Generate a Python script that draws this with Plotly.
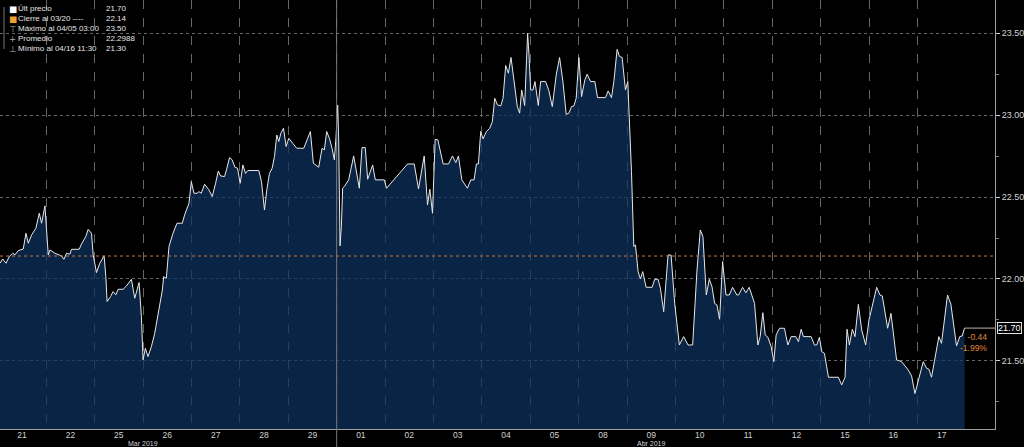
import plotly.graph_objects as go

# ---- data (x = position in trading days since start of 21 Mar; y = price) ----
day_labels = ["21", "22", "25", "26", "27", "28", "29", "01", "02", "03",
              "04", "05", "08", "09", "10", "11", "12", "15", "16", "17"]
month_labels = ["Mar 2019", "Abr 2019"]
month_label_pos = [3.0, 13.5]
month_boundary = 7  # index where "01" (April) starts

t = [0.045, 0.10, 0.169, 0.237, 0.306, 0.354, 0.423, 0.526, 0.581, 0.629,
     0.698, 0.787, 0.856, 0.904, 0.973, 1.007, 1.042, 1.076, 1.179, 1.316,
     1.365, 1.42, 1.488, 1.523, 1.681, 1.729, 1.818, 1.866, 1.935, 1.97,
     2.038, 2.107, 2.196, 2.231, 2.258, 2.327, 2.382, 2.437, 2.485, 2.588,
     2.657, 2.76, 2.828, 2.918, 2.966, 3.0, 3.048, 3.103, 3.172, 3.241,
     3.344, 3.399, 3.426, 3.481, 3.536, 3.619, 3.701, 3.811, 3.859, 3.949,
     3.997, 4.052, 4.114, 4.155, 4.203, 4.272, 4.361, 4.430, 4.499, 4.554,
     4.602, 4.684, 4.732, 4.787, 4.842, 4.897, 4.952, 5.007, 5.062, 5.117,
     5.165, 5.392, 5.447, 5.509, 5.557, 5.612, 5.667, 5.715, 5.763, 5.804,
     5.846, 5.901, 5.956, 6.011, 6.093, 6.176, 6.32, 6.389, 6.457, 6.519,
     6.629,
     6.698, 6.746, 6.794, 6.849, 6.904, 6.952, 6.987, 7.021, 7.042, 7.069,
     7.097, 7.124, 7.158, 7.248, 7.351, 7.413, 7.468, 7.523, 7.591, 7.64,
     7.743, 7.798, 7.983, 8.031, 8.464, 8.602, 8.691, 8.808, 8.877, 8.925,
     8.98, 9.035, 9.09, 9.2, 9.31, 9.392, 9.461, 9.516, 9.585, 9.701,
     9.77, 9.839, 9.887, 9.928,
     9.976, 10.024, 10.093, 10.162, 10.217, 10.265, 10.32, 10.389, 10.437, 10.492,
     10.547, 10.602, 10.664, 10.732, 10.78, 10.822, 10.884, 10.945, 10.973, 11.007,
     11.055, 11.097, 11.165, 11.213, 11.317, 11.385, 11.454, 11.536, 11.605, 11.674,
     11.742, 11.797, 11.852, 11.9, 11.948, 12.004, 12.059, 12.127, 12.175, 12.244,
     12.334, 12.389, 12.553, 12.609, 12.677, 12.726, 12.794, 12.842, 12.897, 12.966,
     13.014, 13.048, 13.09, 13.138, 13.172, 13.227, 13.275,
     13.323, 13.392, 13.516, 13.571, 13.64, 13.688, 13.756, 13.846, 13.908, 13.983,
     14.079, 14.169, 14.258, 14.354, 14.444, 14.512, 14.567, 14.636, 14.698, 14.753,
     14.808, 14.856, 14.911, 14.973, 15.042, 15.11, 15.179, 15.268, 15.303, 15.385,
     15.454, 15.522, 15.632, 15.701, 15.749, 15.804, 15.853, 15.908, 15.976, 16.031,
     16.079, 16.148, 16.251, 16.32, 16.389, 16.485,
     16.54, 16.595, 16.643, 16.801, 16.87, 16.918, 16.973, 17.021, 17.076, 17.159,
     17.365, 17.433, 17.502, 17.543, 17.592, 17.653, 17.708, 17.777, 17.846, 17.928,
     17.997, 18.086, 18.155, 18.224, 18.272, 18.382, 18.451, 18.567, 18.671, 18.808,
     18.877, 18.946, 19.028, 19.117, 19.186, 19.234, 19.289, 19.358, 19.44, 19.495,
     19.619, 19.688, 19.736, 19.805, 19.873, 19.921, 19.97]

price = [22.096, 22.122, 22.096, 22.137, 22.157, 22.147, 22.173, 22.183, 22.279, 22.218,
         22.269, 22.310, 22.401, 22.340, 22.446, 22.320, 22.147, 22.177, 22.157, 22.141,
         22.120, 22.157, 22.151, 22.181, 22.181, 22.214, 22.259, 22.303, 22.279, 22.147,
         22.039, 22.096, 22.141, 22.014, 21.862, 21.892, 21.923, 21.903, 21.937, 21.937,
         21.957, 21.998, 21.882, 21.978, 21.770, 21.506, 21.577, 21.526, 21.587, 21.668,
         21.831, 21.933, 22.014, 22.004, 22.198, 22.279, 22.340, 22.340, 22.391, 22.462,
         22.594, 22.523, 22.523, 22.533, 22.523, 22.578, 22.544, 22.503, 22.584, 22.659,
         22.629, 22.625, 22.676, 22.741, 22.727, 22.682, 22.676, 22.584, 22.696, 22.645,
         22.662, 22.662, 22.594, 22.421, 22.544, 22.645, 22.676, 22.747, 22.879, 22.839,
         22.889, 22.920, 22.808, 22.859, 22.828, 22.798, 22.798, 22.849, 22.900, 22.706,
         22.682,
         22.798, 22.788, 22.900, 22.859, 22.798, 22.727, 22.869, 23.062, 22.849, 22.202,
         22.320, 22.554, 22.564, 22.605, 22.751, 22.655, 22.554, 22.802, 22.802, 22.609,
         22.696, 22.605, 22.605, 22.554, 22.702, 22.702, 22.550, 22.751, 22.452, 22.548,
         22.401, 22.853, 22.849, 22.702, 22.702, 22.751, 22.710, 22.751, 22.605, 22.554,
         22.605, 22.605, 22.702, 22.702,
         22.900, 22.855, 22.900, 22.920, 22.961, 23.103, 23.063, 23.056, 23.103, 23.303,
         23.256, 23.352, 23.195, 23.052, 23.012, 23.154, 23.059, 23.500, 23.368, 23.154,
         23.154, 23.205, 23.059, 23.205, 23.205, 23.148, 23.052, 23.246, 23.352, 23.205,
         23.005, 23.012, 23.052, 23.056, 23.103, 23.352, 23.113, 23.215, 23.250, 23.205,
         23.205, 23.107, 23.107, 23.148, 23.107, 23.205, 23.402, 23.358, 23.352, 23.154,
         23.205, 22.961, 22.656, 22.198, 22.208, 22.045, 22.000,
         22.045, 21.949, 21.949, 21.998, 21.998, 21.943, 21.800, 22.146, 22.146, 21.851,
         21.597, 21.648, 21.597, 21.597, 22.055, 22.299, 22.258, 21.902, 21.998, 21.953,
         21.851, 21.841, 21.754, 22.106, 21.902, 21.902, 21.949, 21.902, 21.902, 21.949,
         21.916, 21.949, 21.851, 21.597, 21.648, 21.794, 21.658, 21.644, 21.587, 21.495,
         21.658, 21.699, 21.699, 21.597, 21.648, 21.648,
         21.617, 21.693, 21.648, 21.648, 21.597, 21.597, 21.644, 21.556, 21.546, 21.400,
         21.400, 21.353, 21.400, 21.693, 21.597, 21.693, 21.648, 21.845, 21.689, 21.597,
         21.750, 21.852, 21.949, 21.902, 21.896, 21.699, 21.790, 21.506, 21.495, 21.444,
         21.408, 21.300, 21.400, 21.495, 21.455, 21.449, 21.400, 21.506, 21.648, 21.607,
         21.902, 21.847, 21.750, 21.591, 21.648, 21.652, 21.700]

close_price = 22.14
average_text = "22.2988"
legend_names = ["Últ precio", "Cierre al 03/20 ----", "Máximo al 04/05 03:00",
                "Promedio", "Mínimo al 04/16 11:30"]

x_range = [0.045, 20.6]
y_range = [21.084, 23.703]

# ---- figure ----
ORANGE = "#e08a3c"
TXT = "#d2d2d2"
GRID = "#666666"
FONT = "Liberation Sans, Arial, sans-serif"

last = price[-1]
fig = go.Figure()
fig.add_trace(go.Scatter(
    x=t, y=price, mode="lines",
    line=dict(color="#e8e8e8", width=1),
    fill="tozeroy", fillcolor="rgba(14,50,96,0.72)",
    hoverinfo="skip", showlegend=False))

fig.update_layout(
    width=1024, height=447,
    margin=dict(l=0, r=27, t=0, b=18),
    paper_bgcolor="black", plot_bgcolor="black",
    font=dict(family=FONT, color=TXT, size=9),
    showlegend=False,
    xaxis=dict(
        range=x_range,
        tickmode="array",
        tickvals=[i + 0.5 for i in range(len(day_labels))],
        ticktext=day_labels,
        ticks="", showgrid=False, zeroline=False,
        showline=True, linecolor="#a0a0a0", linewidth=1,
        ticklabelstandoff=-2,
        tickfont=dict(size=8.5, color=TXT, family=FONT),
        minor=dict(tickmode="array", tickvals=list(range(1, len(day_labels))),
                   showgrid=True, gridcolor=GRID, griddash="dash", gridwidth=1),
    ),
    yaxis=dict(
        range=y_range, side="right",
        tick0=21.5, dtick=0.5, tickformat=".2f",
        showgrid=True, gridcolor=GRID, griddash="dot", gridwidth=1,
        zeroline=False,
        showline=True, linecolor="#a0a0a0", linewidth=1,
        ticks="outside", ticklen=4, tickcolor="#d0d0d0", tickwidth=1,
        tickfont=dict(size=9, color=TXT, family=FONT),
        minor=dict(tick0=21.25, dtick=0.25, ticks="outside", ticklen=3,
                   tickcolor="#808080", showgrid=False),
    ),
)

shapes = []
# previous close line
shapes.append(dict(type="line", xref="paper", x0=0, x1=1, yref="y",
                   y0=close_price, y1=close_price, layer="above",
                   line=dict(color="#c8783c", width=1, dash="dot")))
# month separator
shapes.append(dict(type="line", xref="x", x0=month_boundary, x1=month_boundary,
                   yref="paper", y0=-0.045, y1=1, layer="above",
                   line=dict(color="#777777", width=1)))
# last price leader line
shapes.append(dict(type="line", xref="x", x0=t[-1], x1=x_range[1], yref="y",
                   y0=last, y1=last, layer="above",
                   line=dict(color="#bdb2a4", width=1)))
# legend tree line
shapes.append(dict(type="line", xref="paper", xsizemode="pixel", xanchor=0, x0=4, x1=4,
                   yref="paper", ysizemode="pixel", yanchor=1, y0=-7, y1=-49,
                   line=dict(color="#777777", width=1)))
fig.update_layout(shapes=shapes)

ann = []
# legend rows
legend_values = [f"{last:.2f}", f"{close_price:.2f}", f"{max(price):.2f}",
                 average_text, f"{min(price):.2f}"]
icons = [("■", "#ffffff"), ("■", "#f0a030"), ("⊤", "#aaaaaa"), ("+", "#aaaaaa"), ("⊥", "#aaaaaa")]
for i, (name, val) in enumerate(zip(legend_names, legend_values)):
    ys = -(2 + 10 * i)
    ic, col = icons[i]
    ann.append(dict(xref="paper", yref="paper", x=0, y=1, xanchor="left", yanchor="top",
                    xshift=7, yshift=ys, text=ic, showarrow=False,
                    font=dict(size=8.5, color=col, family="DejaVu Sans")))
    ann.append(dict(xref="paper", yref="paper", x=0, y=1, xanchor="left", yanchor="top",
                    xshift=16, yshift=ys, text=name, showarrow=False,
                    font=dict(size=8, color="#e6e6e6", family=FONT)))
    ann.append(dict(xref="paper", yref="paper", x=0, y=1, xanchor="left", yanchor="top",
                    xshift=104, yshift=ys, text=val, showarrow=False,
                    font=dict(size=8, color="#e6e6e6", family=FONT)))

# month labels
for lab, pos in zip(month_labels, month_label_pos):
    ann.append(dict(xref="x", yref="paper", x=pos, y=0, xanchor="center", yanchor="top",
                    yshift=-10, text=lab, showarrow=False, borderpad=0,
                    font=dict(size=7, color=TXT, family=FONT)))

# last price box
ann.append(dict(xref="paper", yref="y", x=1, y=last, xanchor="left", yanchor="middle",
                xshift=2, text=f"{last:.2f}", showarrow=False,
                bgcolor="black", bordercolor="#e0e0e0", borderwidth=1, borderpad=0,
                font=dict(size=9, color="#ffffff", family=FONT)))
# change vs close
chg = last - close_price
pct = chg / close_price * 100
ann.append(dict(xref="paper", yref="y", x=1, y=last, xanchor="right", yanchor="top",
                xshift=-6, yshift=-2, text=f"{chg:.2f}<br>{pct:.2f}%", align="right",
                showarrow=False, font=dict(size=8.5, color=ORANGE, family=FONT)))
fig.update_layout(annotations=ann)

fig.write_html("out.html",
               config={"displayModeBar": False},
               post_script="document.body.style.margin='0px';document.body.style.overflow='hidden';")
